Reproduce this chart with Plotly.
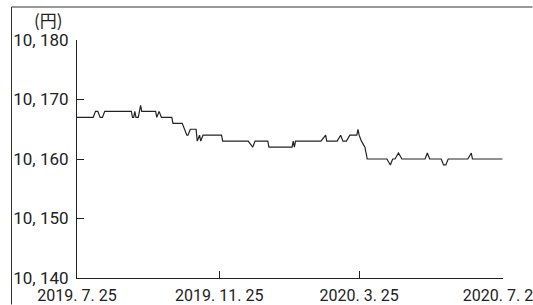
import plotly.graph_objects as go

dates = [
    "2019-07-25", "2019-08-08", "2019-08-10", "2019-08-12", "2019-08-14", "2019-08-16", "2019-08-18",
    "2019-09-10", "2019-09-11", "2019-09-12", "2019-09-13", "2019-09-14", "2019-09-16", "2019-09-17",
    "2019-09-18", "2019-09-19", "2019-10-01", "2019-10-02", "2019-10-04", "2019-10-06", "2019-10-15",
    "2019-10-16", "2019-10-24", "2019-10-28", "2019-10-29", "2019-10-31", "2019-11-05", "2019-11-06",
    "2019-11-08", "2019-11-09", "2019-11-11", "2019-11-27", "2019-11-28", "2019-12-20", "2019-12-24",
    "2019-12-26", "2020-01-06", "2020-01-07", "2020-01-27", "2020-01-28", "2020-01-29", "2020-01-30",
    "2020-02-21", "2020-02-25", "2020-02-26", "2020-03-06", "2020-03-09", "2020-03-11", "2020-03-14",
    "2020-03-17", "2020-03-23", "2020-03-24", "2020-03-25", "2020-03-27", "2020-03-30", "2020-04-01",
    "2020-04-18", "2020-04-21", "2020-04-23", "2020-04-25", "2020-04-28", "2020-05-01", "2020-05-21",
    "2020-05-23", "2020-05-25", "2020-06-04", "2020-06-06", "2020-06-08", "2020-06-10", "2020-06-27",
    "2020-06-30", "2020-07-01", "2020-07-27",
]
prices = [
    10167, 10167, 10168, 10168, 10167, 10167, 10168,
    10168, 10167, 10167, 10168, 10167, 10167, 10168,
    10169, 10168, 10168, 10167, 10168, 10167, 10167,
    10166, 10166, 10164, 10164, 10165, 10165, 10163,
    10164, 10163, 10164, 10164, 10163, 10163, 10162,
    10163, 10163, 10162, 10162, 10163, 10162, 10163,
    10163, 10164, 10163, 10163, 10164, 10163, 10163,
    10164, 10164, 10165, 10164, 10163, 10162, 10160,
    10160, 10159, 10160, 10160, 10161, 10160, 10160,
    10161, 10160, 10160, 10159, 10159, 10160, 10160,
    10161, 10160, 10160,
]

y_ticks = [10140, 10150, 10160, 10170, 10180]
y_tick_labels = ["10, 140", "10, 150", "10, 160", "10, 170", "10, 180"]
x_ticks = ["2019-07-25", "2019-11-25", "2020-03-25", "2020-07-27"]
x_tick_labels = ["2019. 7. 25", "2019. 11. 25", "2020. 3. 25", "2020. 7. 27"]
unit_label = "(円)"

font_family = "Roboto, Noto Sans CJK JP, sans-serif"

fig = go.Figure()
fig.add_trace(go.Scatter(
    x=dates, y=prices, mode="lines",
    line=dict(color="#222222", width=1.2),
    hoverinfo="skip", showlegend=False,
))

W, H = 533, 305
ml, mr, mt, mb = 77, 30, 40, 27
pw, ph = W - ml - mr, H - mt - mb

def px_x(p):
    return (p - ml) / pw

def px_y(p):
    return (H - mb - p) / ph

fig.update_layout(
    width=W, height=H,
    margin=dict(l=ml, r=mr, t=mt, b=mb, pad=0),
    paper_bgcolor="white", plot_bgcolor="white",
    font=dict(family=font_family, size=17, color="#222222"),
    xaxis=dict(
        type="date", range=["2019-07-25", "2020-07-27 10:00"],
        tickmode="array", tickvals=x_ticks, ticktext=x_tick_labels,
        ticks="inside", ticklen=7, tickcolor="#222222", tickwidth=1,
        showline=True, linecolor="#222222", linewidth=1,
        showgrid=False, zeroline=False, fixedrange=True,
        automargin=False, tickangle=0, ticklabeloverflow="allow",
        tickfont=dict(size=16),
        ticklabelstandoff=3,
    ),
    yaxis=dict(
        range=[10140, 10180],
        tickmode="array", tickvals=y_ticks, ticktext=y_tick_labels,
        ticks="inside", ticklen=7, tickcolor="#222222", tickwidth=1,
        showline=True, linecolor="#222222", linewidth=1,
        showgrid=False, zeroline=False, fixedrange=True,
        automargin=False, ticklabeloverflow="allow",
        tickfont=dict(size=17),
        ticklabelstandoff=4,
    ),
    annotations=[dict(
        text=unit_label, xref="paper", yref="paper",
        x=px_x(48), y=px_y(19), xanchor="center", yanchor="middle",
        showarrow=False, font=dict(family="Noto Sans CJK JP, sans-serif", size=17, color="#222222"),
    )],
    shapes=[
        dict(type="line", xref="paper", yref="paper", layer="above",
             x0=px_x(11.5), x1=px_x(11.5), y0=px_y(7), y1=px_y(H - 0.5),
             line=dict(color="#333333", width=1)),
        dict(type="line", xref="paper", yref="paper", layer="above",
             x0=px_x(11.5), x1=px_x(W - 0.5), y0=px_y(7), y1=px_y(7),
             line=dict(color="#333333", width=1)),
    ],
)

fig.write_html(
    "out.html",
    config={"displayModeBar": False, "staticPlot": True},
    post_script="document.body.style.margin='0';",
)
